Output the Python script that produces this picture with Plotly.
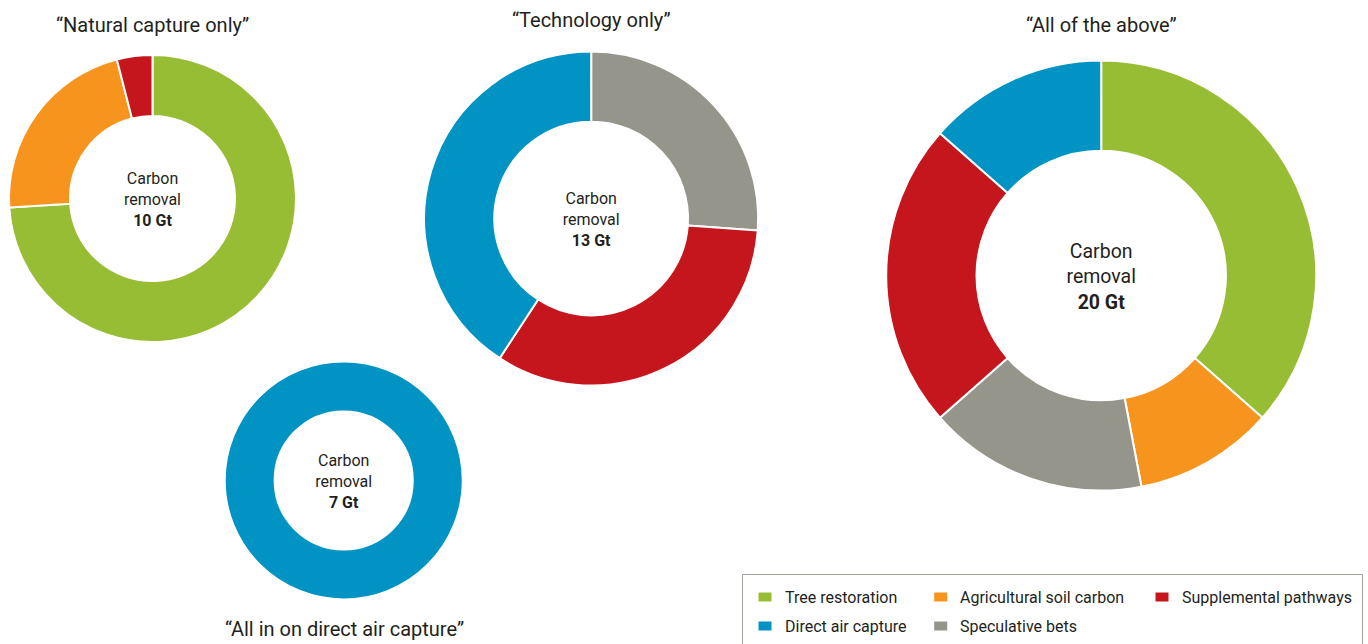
import plotly.graph_objects as go

W, H = 1368, 644
FONT = "Roboto, Arial, sans-serif"
TXT = "#231f20"

colors = {
    "Tree restoration": "#97bd35",
    "Agricultural soil carbon": "#f7941e",
    "Supplemental pathways": "#c4161c",
    "Direct air capture": "#0093c4",
    "Speculative bets": "#95958b",
}
legend_order = ["Tree restoration", "Agricultural soil carbon", "Supplemental pathways",
                "Direct air capture", "Speculative bets"]

# Scenario data (Gt of carbon removal), clockwise from 12 o'clock
natural_labels = ["Tree restoration", "Agricultural soil carbon", "Supplemental pathways"]
natural_values = [7.4, 2.2, 0.4]

dac_labels = ["Direct air capture"]
dac_values = [7.0]

tech_labels = ["Speculative bets", "Supplemental pathways", "Direct air capture"]
tech_values = [3.4, 4.3, 5.3]

all_labels = ["Tree restoration", "Agricultural soil carbon", "Speculative bets",
              "Supplemental pathways", "Direct air capture"]
all_values = [7.3, 2.1, 3.3, 4.6, 2.7]

titles = ["\u201cNatural capture only\u201d", "\u201cAll in on direct air capture\u201d",
          "\u201cTechnology only\u201d", "\u201cAll of the above\u201d"]
totals = ["10 Gt", "7 Gt", "13 Gt", "20 Gt"]

# layout geometry: center x, center y, outer radius (px), hole, center font size
geo = [
    (152.5, 198.5, 143.5, 0.575, 16),
    (343.7, 480.4, 119.0, 0.58, 16),
    (591.2, 218.5, 167.0, 0.58, 16),
    (1101.2, 275.5, 215.0, 0.58, 19.5),
]
title_pos = [(152.5, 25), (344, 629), (591, 20), (1101, 25)]

series = [(natural_labels, natural_values), (dac_labels, dac_values),
          (tech_labels, tech_values), (all_labels, all_values)]

fig = go.Figure()
for (labels, values), (cx, cy, r, hole, fs), tot in zip(series, geo, totals):
    fig.add_trace(go.Pie(
        labels=labels, values=values, sort=False, direction="clockwise", rotation=0,
        hole=hole, textinfo="none", hoverinfo="label+value", showlegend=False,
        marker=dict(colors=[colors[l] for l in labels], line=dict(color="white", width=2)),
        domain=dict(x=[(cx - r) / W, (cx + r) / W], y=[1 - (cy + r) / H, 1 - (cy - r) / H]),
        title=dict(text=f"Carbon<br>removal<br><b>{tot}</b>", position="middle center",
                   font=dict(family=FONT, size=fs, color=TXT)),
    ))

for t, (x, y) in zip(titles, title_pos):
    fig.add_annotation(text=t, x=x / W, y=1 - y / H, xref="paper", yref="paper",
                       showarrow=False, xanchor="center", yanchor="middle",
                       font=dict(family=FONT, size=20, color=TXT))

# legend box (drawn as a key in paper pixels)
def px(x):
    return x / W

def py(y):
    return 1 - y / H

shapes = [dict(type="rect", xref="paper", yref="paper", x0=px(742.5), x1=px(1362.5),
               y0=py(660), y1=py(574.5), line=dict(color="#a3a39c", width=1),
               fillcolor="rgba(0,0,0,0)")]
key_cols = [765, 940.7, 1162, 765, 940.7]
key_rows = [597, 597, 597, 626, 626]
for name, kx, ky in zip(legend_order, key_cols, key_rows):
    shapes.append(dict(type="rect", xref="paper", yref="paper",
                       x0=px(kx - 6.5), x1=px(kx + 6.5), y0=py(ky + 4.5), y1=py(ky - 4.5),
                       line=dict(width=0), fillcolor=colors[name]))
    fig.add_annotation(text=name, x=px(kx + 17.5), y=py(ky), xref="paper", yref="paper",
                       showarrow=False, xanchor="left", yanchor="middle",
                       font=dict(family=FONT, size=16, color=TXT))

fig.update_layout(
    width=W, height=H, margin=dict(l=0, r=0, t=0, b=0, autoexpand=False),
    paper_bgcolor="white", plot_bgcolor="white",
    font=dict(family=FONT, color=TXT),
    showlegend=False, shapes=shapes,
)

fig.write_html("out.html", config={"displayModeBar": False},
               post_script="document.body.style.margin='0';document.body.style.overflow='hidden';")
